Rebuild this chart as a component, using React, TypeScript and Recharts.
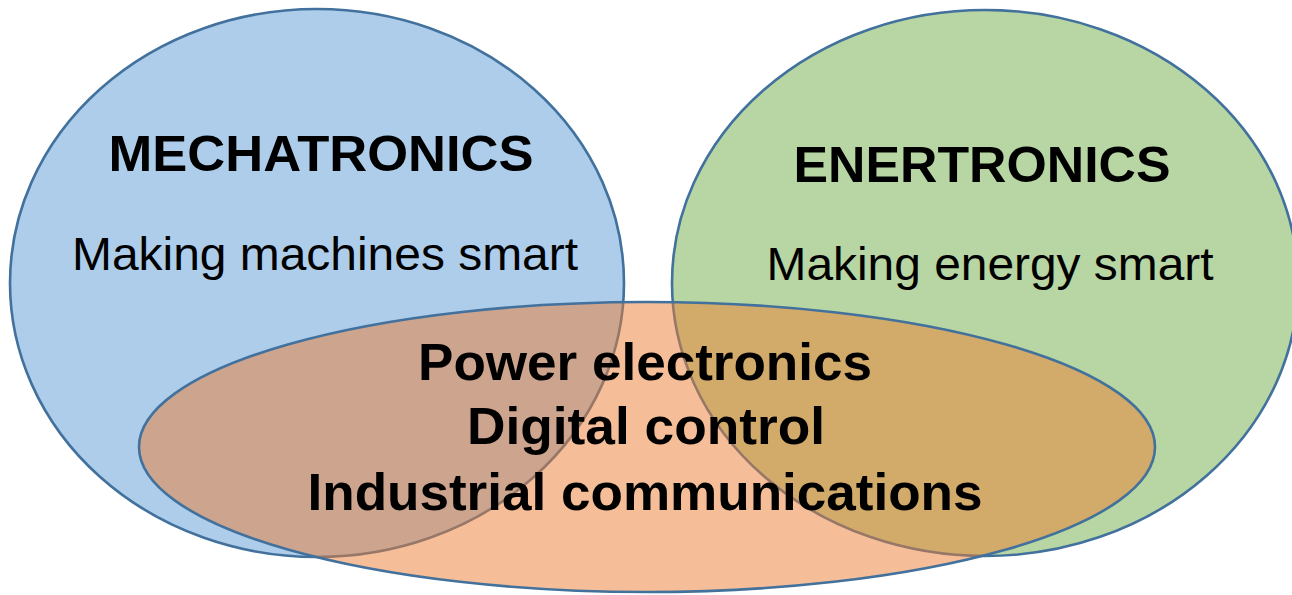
import React from "react";
import { ScatterChart, Scatter, XAxis, YAxis } from "recharts";

const W = 1292;
const H = 595;

// Ellipses: center (x, y) and radii in chart units (1 unit = 1 px here)
const setNames = ["Mechatronics", "Enertronics", "Core"];
const setCenterX = [317, 985, 647];
const setCenterY = [283, 283, 447];
const setRadiusX = [307, 313, 508];
const setRadiusY = [274, 273, 145];
const setColors = ["#5b9bd5", "#70ad47", "#ed7d31"];

const ellipses = setNames.map((name, i) => ({
  name,
  x: setCenterX[i],
  y: setCenterY[i],
  rx: setRadiusX[i],
  ry: setRadiusY[i],
  color: setColors[i],
}));

// Labels
const labelTexts = [
  "MECHATRONICS",
  "Making machines smart",
  "ENERTRONICS",
  "Making energy smart",
  "Power electronics",
  "Digital control",
  "Industrial communications",
];
const labelX = [321, 325, 982, 990, 645, 646, 645];
const labelY = [171, 270, 182, 280, 380, 444, 510];
const labelKind = ["title", "sub", "title", "sub", "core", "core", "core"];
const labelWidth = [425, 506, 377, 447, 454, 358, 675];

const labels = labelTexts.map((t, i) => ({
  text: t,
  x: labelX[i],
  y: labelY[i],
  kind: labelKind[i],
  w: labelWidth[i],
}));

const kindStyle: Record<string, { size: number; weight: number }> = {
  title: { size: 50, weight: 700 },
  sub: { size: 46, weight: 400 },
  core: { size: 52, weight: 700 },
};

const EllipseShape = (props: any) => {
  const { cx, cy, payload } = props;
  if (cx == null || cy == null) return null;
  return (
    <ellipse
      cx={cx}
      cy={cy}
      rx={payload.rx * (W / W)}
      ry={payload.ry * (H / H)}
      fill={payload.color}
      fillOpacity={0.5}
      stroke="#41719c"
      strokeWidth={2.6}
    />
  );
};

const LabelShape = (props: any) => {
  const { cx, cy, payload } = props;
  if (cx == null || cy == null) return null;
  const st = kindStyle[payload.kind];
  return (
    <text
      x={cx}
      y={cy}
      textAnchor="middle"
      fontFamily="'Liberation Sans', Arial, sans-serif"
      fontSize={st.size}
      fontWeight={st.weight}
      fill="#000000"
      textLength={payload.w}
      lengthAdjust="spacingAndGlyphs"
    >
      {payload.text}
    </text>
  );
};

export default function App() {
  return (
    <div style={{ position: "absolute", left: 0, top: 0, width: W, height: H, background: "#ffffff" }}>
      <style>{"body{margin:0;}"}</style>
      <ScatterChart width={W} height={H} margin={{ top: 0, right: 0, bottom: 0, left: 0 }}>
        <XAxis type="number" dataKey="x" domain={[0, W]} hide allowDataOverflow />
        <YAxis type="number" dataKey="y" domain={[0, H]} reversed hide allowDataOverflow />
        <Scatter data={ellipses} shape={EllipseShape} isAnimationActive={false} />
        <Scatter data={labels} shape={LabelShape} isAnimationActive={false} />
      </ScatterChart>
    </div>
  );
}
